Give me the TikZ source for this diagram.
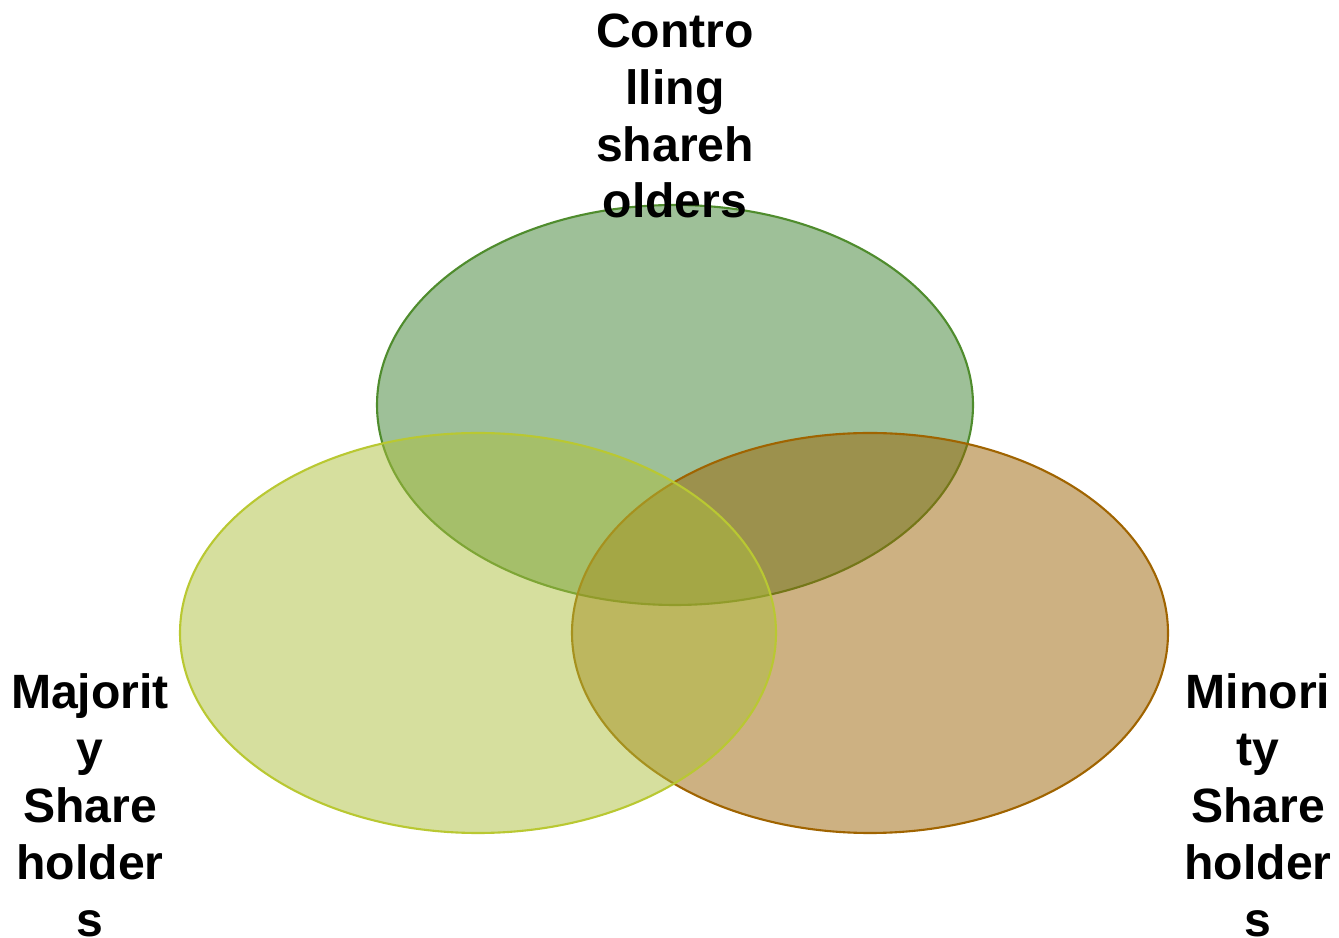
\documentclass[tikz,border=0pt]{standalone}
\usepackage{fontspec}
\setmainfont{Liberation Sans}
\usepackage{tikz}
\usetikzlibrary{shapes.geometric}

\definecolor{ctrlfill}{RGB}{61,129,49}
\definecolor{ctrlline}{RGB}{79,140,45}
\definecolor{majfill}{RGB}{173,191,61}
\definecolor{majline}{RGB}{185,200,50}
\definecolor{minfill}{RGB}{155,99,5}
\definecolor{minline}{RGB}{160,100,0}

\begin{document}
\begin{tikzpicture}[set/.style={ellipse, minimum width=5.96cm, minimum height=4cm, inner sep=0pt, fill opacity=0.5, line width=0.6pt},
    lbl/.style={align=center, font=\fontsize{13.7pt}{16.2pt}\selectfont\bfseries}]
    	\useasboundingbox (0,0) rectangle (13.39,9.38);
    	\node[set, draw=ctrlline, fill=ctrlfill] (ctrl) at (6.75,5.33) {};
    	\node[set, draw=minline, fill=minfill] (min) at (8.70,3.05) {};
    	\node[set, draw=majline, fill=majfill] (maj) at (4.78,3.05) {};
    	\node[lbl] (ctrltxt) at (6.75,8.22) {Contro\\lling\\shareh\\olders};
    	\node[lbl] (majtxt) at (0.90,1.33) {Majorit\\y\\Share\\holder\\s};
    	\node[lbl] (mintxt) at (12.58,1.33) {Minori\\ty\\Share\\holder\\s};
    \end{tikzpicture}
\end{document}
